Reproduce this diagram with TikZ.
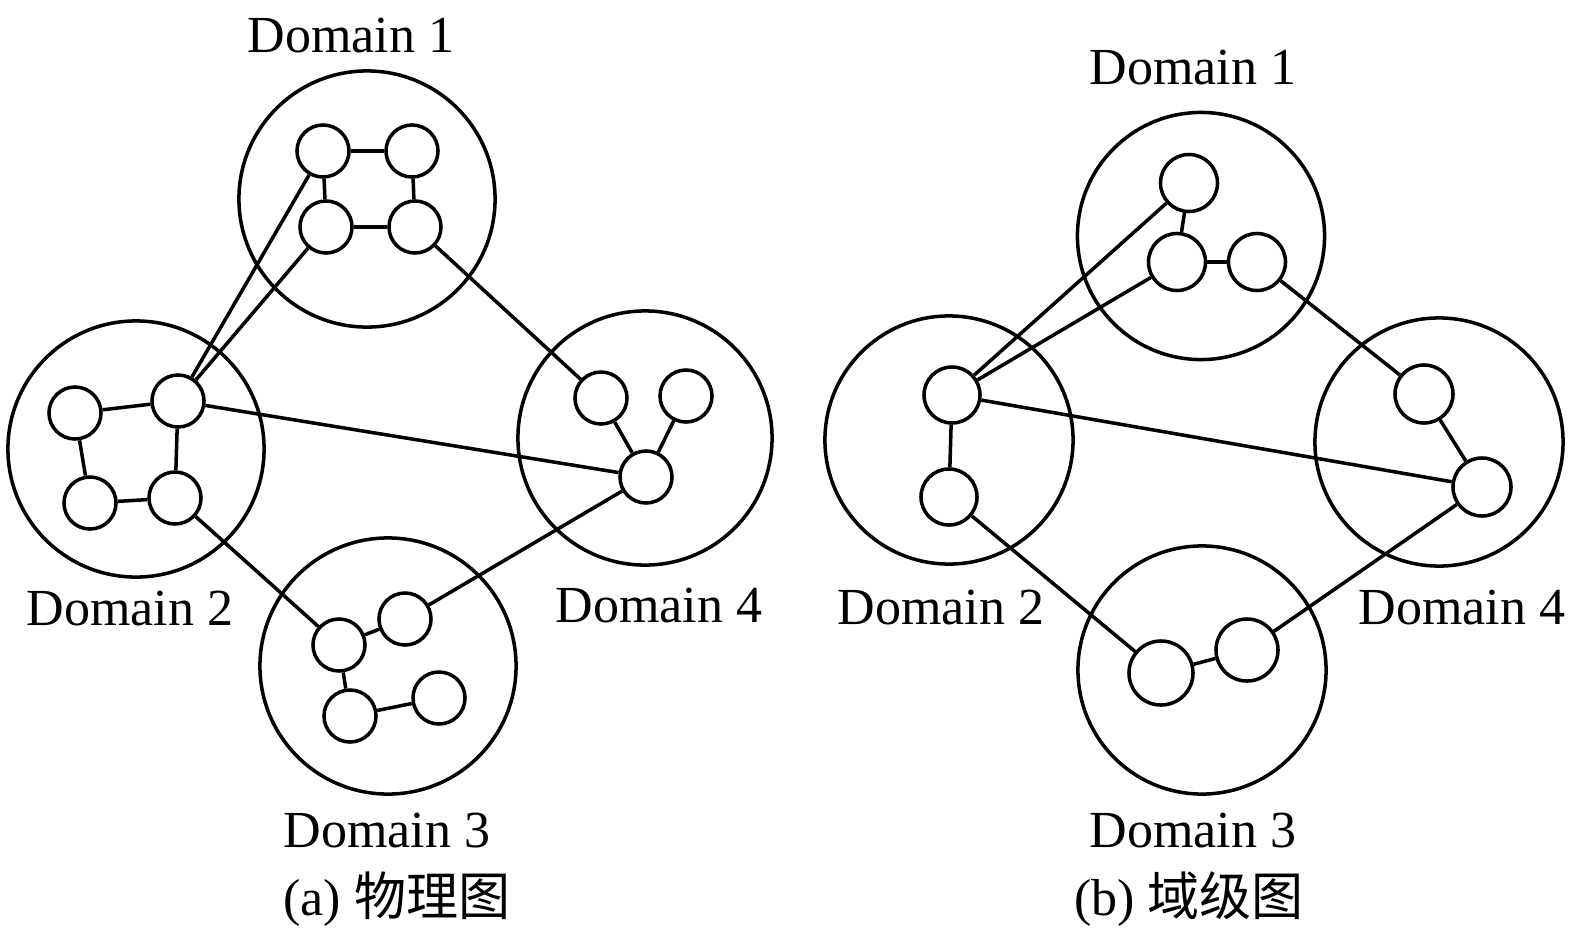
\documentclass[tikz,border=0pt]{standalone}
\usepackage{fontspec}
\setmainfont{Liberation Serif}
\newfontfamily\cjk{Noto Sans CJK SC}
\usepackage{tikz}

\tikzset{
	domain/.style={shape=circle, draw=black, line width=1pt, minimum size=#1, inner sep=0pt},
	host/.style={shape=circle, draw=black, line width=1pt, fill=white, minimum size=#1, inner sep=0pt},
	lbl/.style={font=\fontsize{14.8}{17}\selectfont, inner sep=0pt},
	link/.style={line width=1pt}
}

\begin{document}
\begin{tikzpicture}[x=0.01cm, y=-0.01cm]
			\useasboundingbox (0,0) rectangle (1575,945);
			% (a) physical graph
			\node[domain=2.56cm] (pd1) at (367,199) {};
			\node[domain=2.56cm] (pd2) at (136,449) {};
			\node[domain=2.54cm] (pd4) at (645,438) {};
			\node[domain=2.56cm] (pd3) at (388,666) {};
			
			\node[host=0.52cm] (p11) at (323,151) {};
			\node[host=0.52cm] (p12) at (412,151) {};
			\node[host=0.52cm] (p13) at (326,227) {};
			\node[host=0.52cm] (p14) at (415,227) {};
			\node[host=0.52cm] (p21) at (75,413) {};
			\node[host=0.52cm] (p22) at (178,401) {};
			\node[host=0.52cm] (p23) at (90,503) {};
			\node[host=0.52cm] (p24) at (175,498) {};
			\node[host=0.52cm] (p41) at (601,398) {};
			\node[host=0.52cm] (p42) at (686,396) {};
			\node[host=0.52cm] (p43) at (646,477) {};
			\node[host=0.52cm] (p31) at (339,645) {};
			\node[host=0.52cm] (p32) at (405,619) {};
			\node[host=0.52cm] (p33) at (350,716) {};
			\node[host=0.52cm] (p34) at (439,698) {};
			
			\path[link] (p11) edge (p12);
			\path[link] (p13) edge (p14);
			\path[link] (p11) edge (p13);
			\path[link] (p12) edge (p14);
			\path[link] (p11) edge (p22);
			\path[link] (p13) edge (p22);
			\path[link] (p14) edge (p41);
			\path[link] (p21) edge (p22);
			\path[link] (p21) edge (p23);
			\path[link] (p23) edge (p24);
			\path[link] (p22) edge (p24);
			\path[link] (p22) edge (p43);
			\path[link] (p24) edge (p31);
			\path[link] (p41) edge (p43);
			\path[link] (p42) edge (p43);
			\path[link] (p43) edge (p32);
			\path[link] (p31) edge (p32);
			\path[link] (p31) edge (p33);
			\path[link] (p33) edge (p34);
			
			\node[lbl] (pl1) at (351,36) {Domain 1};
			\node[lbl] (pl2) at (130,609) {Domain 2};
			\node[lbl] (pl4) at (659,606) {Domain 4};
			\node[lbl] (pl3) at (387,831) {Domain 3};
			\node[lbl] (pcap) at (397,899) {(a) {\cjk 物理图}};
			
			% (b) domain-level graph
			\node[domain=2.47cm] (qd1) at (1201,236) {};
			\node[domain=2.48cm] (qd2) at (949,440) {};
			\node[domain=2.48cm] (qd4) at (1439,442) {};
			\node[domain=2.48cm] (qd3) at (1202,670) {};
			
			\node[host=0.57cm] (q11) at (1189,183) {};
			\node[host=0.57cm] (q12) at (1177,262) {};
			\node[host=0.57cm] (q13) at (1257,262) {};
			\node[host=0.56cm] (q21) at (952,395) {};
			\node[host=0.56cm] (q22) at (949,497) {};
			\node[host=0.58cm] (q41) at (1424,394) {};
			\node[host=0.58cm] (q42) at (1482,487) {};
			\node[host=0.64cm] (q31) at (1161,673) {};
			\node[host=0.62cm] (q32) at (1247,650) {};
			
			\path[link] (q11) edge (q21);
			\path[link] (q12) edge (q21);
			\path[link] (q11) edge (q12);
			\path[link] (q12) edge (q13);
			\path[link] (q13) edge (q41);
			\path[link] (q21) edge (q22);
			\path[link] (q21) edge (q42);
			\path[link] (q22) edge (q31);
			\path[link] (q31) edge (q32);
			\path[link] (q32) edge (q42);
			\path[link] (q41) edge (q42);
			
			\node[lbl] (ql1) at (1193,68) {Domain 1};
			\node[lbl] (ql2) at (941,608) {Domain 2};
			\node[lbl] (ql4) at (1462,608) {Domain 4};
			\node[lbl] (ql3) at (1193,831) {Domain 3};
			\node[lbl] (qcap) at (1189,899) {(b) {\cjk 域级图}};
		\end{tikzpicture}
\end{document}
